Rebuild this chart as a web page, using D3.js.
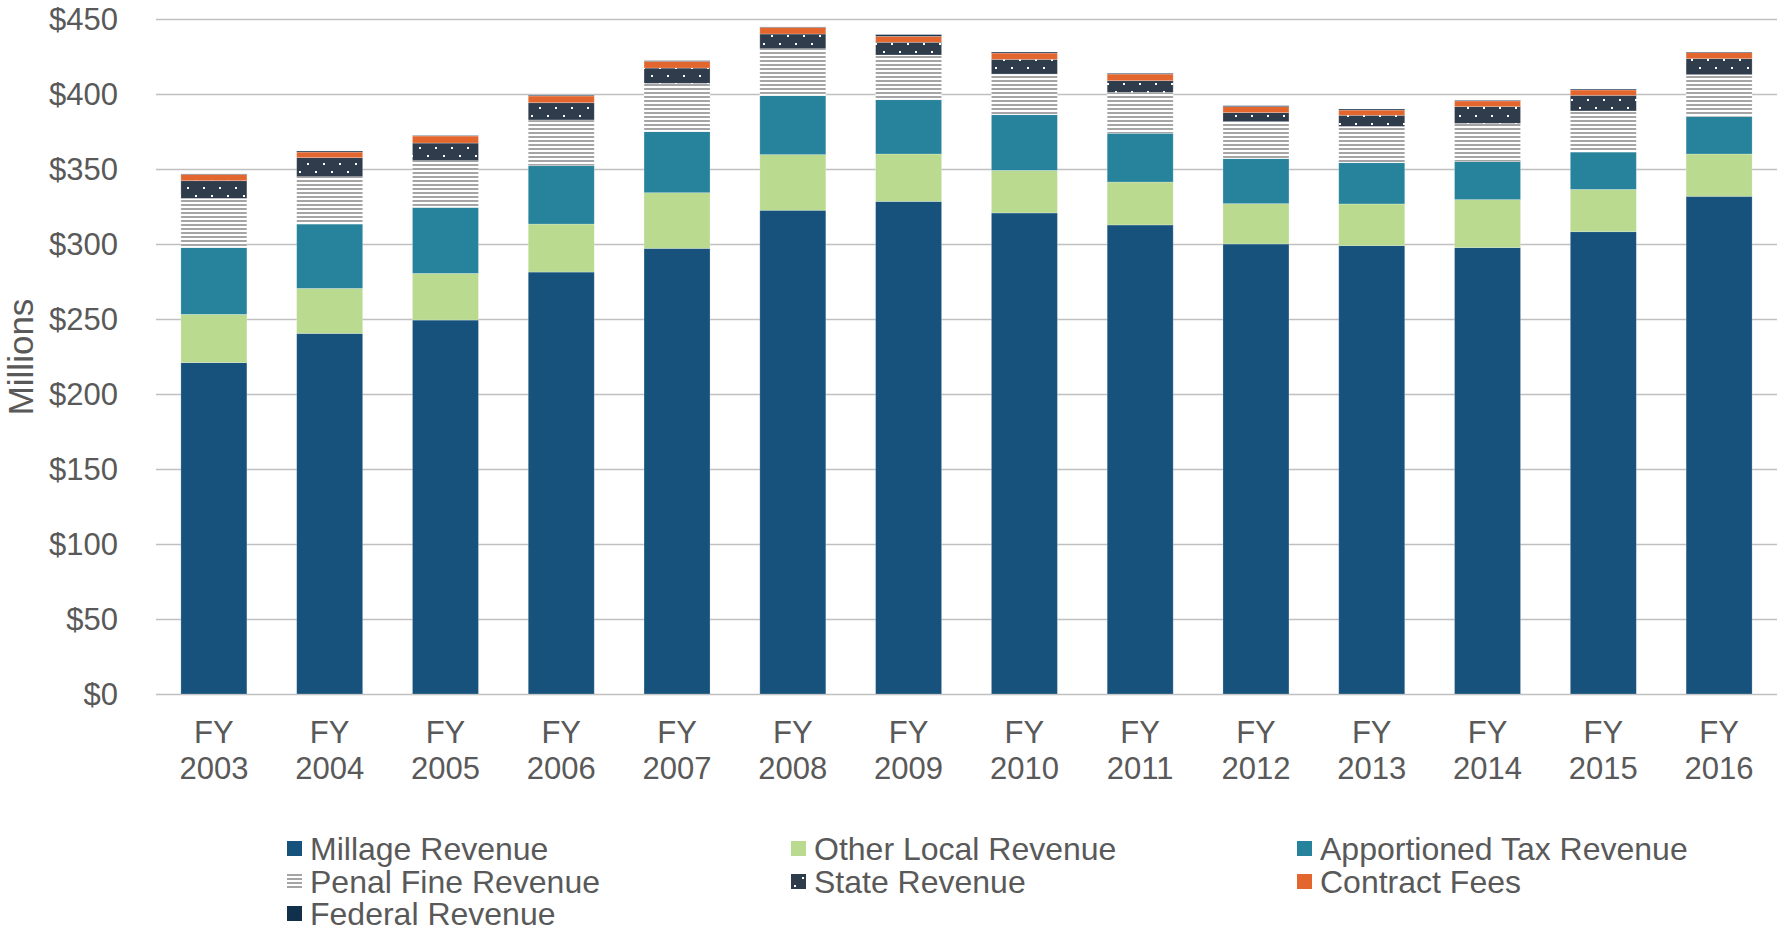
<!DOCTYPE html>
<html>
<head>
<meta charset="utf-8">
<script src="https://cdn.jsdelivr.net/npm/d3@7"></script>
<style>
    body { margin: 0; background: white; }
    text { font-family: "Liberation Sans", Arial, sans-serif; fill: #595959; }
</style>
</head>
<body>
<div id="chart"></div>
<script>
// values, in millions
var years = ['2003', '2004', '2005', '2006', '2007', '2008', '2009', '2010', '2011', '2012', '2013', '2014', '2015', '2016'];
var millage = [220.9, 240.4, 249.3, 281.3, 297.1, 322.5, 328.4, 320.7, 312.7, 300.0, 298.9, 297.6, 308.2, 331.8];
var otherLocal = [32.2, 30.0, 31.1, 32.0, 37.1, 37.1, 31.6, 28.4, 28.6, 26.9, 27.8, 32.0, 28.2, 28.2];
var apportioned = [44.5, 42.9, 44.0, 38.9, 40.7, 39.3, 36.2, 37.1, 32.5, 30.0, 27.5, 25.3, 24.9, 24.9];
var penalFine = [32.8, 31.6, 31.2, 30.5, 32.2, 31.3, 29.8, 27.1, 27.3, 24.7, 24.2, 25.5, 27.4, 28.0];
var stateRev = [11.8, 12.7, 11.7, 11.5, 10.2, 9.8, 8.5, 9.8, 7.8, 6.0, 7.4, 11.2, 10.4, 10.7];
var contractFees = [4.2, 3.7, 4.7, 4.5, 4.5, 4.4, 4.0, 4.2, 4.4, 4.0, 3.5, 3.8, 3.6, 4.0];
var federal = [0.3, 0.7, 0.3, 0.5, 0.4, 0.3, 1.1, 0.7, 0.5, 0.6, 0.7, 0.4, 0.6, 0.4];
var yTicks = [0, 50, 100, 150, 200, 250, 300, 350, 400, 450];

var series = [
    { key: 'millage', name: 'Millage Revenue', values: millage, fill: '#17527c' },
    { key: 'other', name: 'Other Local Revenue', values: otherLocal, fill: '#b9da8f' },
    { key: 'apportioned', name: 'Apportioned Tax Revenue', values: apportioned, fill: '#26839b' },
    { key: 'penal', name: 'Penal Fine Revenue', values: penalFine, fill: 'url(#penal)' },
    { key: 'state', name: 'State Revenue', values: stateRev, fill: 'url(#dots)' },
    { key: 'contract', name: 'Contract Fees', values: contractFees, fill: '#e3662f' },
    { key: 'federal', name: 'Federal Revenue', values: federal, fill: '#11304c' }
];

var width = 1777, height = 932;
var plot = { left: 156, right: 1777, top: 19, bottom: 694 };

var svg = d3.select('#chart')
    .append('svg')
    .attr('width', width)
    .attr('height', height);

// fill patterns for penal fines (stripes) and state revenue (dots)
var defs = svg.append('defs');
var stripes = defs.append('pattern')
    .attr('id', 'penal')
    .attr('patternUnits', 'userSpaceOnUse')
    .attr('width', 4).attr('height', 4);
stripes.append('rect').attr('width', 4).attr('height', 4).attr('fill', 'white');
stripes.append('rect').attr('width', 4).attr('height', 2).attr('fill', '#a5a5a5');

var dots = defs.append('pattern')
    .attr('id', 'dots')
    .attr('patternUnits', 'userSpaceOnUse')
    .attr('width', 16).attr('height', 16);
dots.append('rect').attr('width', 16).attr('height', 16).attr('fill', '#2f3c4c');
dots.append('rect').attr('x', 3).attr('y', 3).attr('width', 2).attr('height', 2).attr('fill', 'white');
dots.append('rect').attr('x', 11).attr('y', 11).attr('width', 2).attr('height', 2).attr('fill', 'white');

var x = d3.scaleBand()
    .domain(years)
    .range([plot.left, plot.right])
    .paddingInner(0.43)
    .paddingOuter(0.215);

var y = d3.scaleLinear()
    .domain([0, 450])
    .range([plot.bottom, plot.top]);

// gridlines
svg.append('g')
    .attr('transform', 'translate(' + plot.left + ',0)')
    .call(d3.axisLeft(y).tickValues(yTicks).tickSize(-(plot.right - plot.left)).tickFormat(''))
    .call(function(g) {
        g.select('.domain').remove();
        g.selectAll('line').attr('stroke', '#c0c0c0').attr('stroke-width', 1.5);
    });

// y labels
svg.append('g')
    .selectAll('text')
    .data(yTicks)
    .enter()
    .append('text')
    .attr('x', 118)
    .attr('y', function(d) { return y(d); })
    .attr('dy', '0.36em')
    .attr('text-anchor', 'end')
    .style('font-size', '31px')
    .text(function(d) { return '$' + d; });

svg.append('text')
    .attr('transform', 'translate(33,357) rotate(-90)')
    .attr('text-anchor', 'middle')
    .style('font-size', '35px')
    .text('Millions');

// stacked bars
var rows = years.map(function(yr, i) {
    var r = { year: yr };
    series.forEach(function(s) { r[s.key] = s.values[i]; });
    return r;
});
var stack = d3.stack().keys(series.map(function(s) { return s.key; }));
var layers = stack(rows);

svg.append('g')
    .selectAll('g')
    .data(layers)
    .enter()
    .append('g')
    .attr('fill', function(d, i) { return series[i].fill; })
    .selectAll('rect')
    .data(function(d) { return d; })
    .enter()
    .append('rect')
    .attr('x', function(d) { return x(d.data.year); })
    .attr('width', x.bandwidth())
    .attr('y', function(d) { return y(d[1]); })
    .attr('height', function(d) { return y(d[0]) - y(d[1]); })
    .attr('stroke', 'white')
    .attr('stroke-opacity', 0.3)
    .attr('stroke-width', 0.75);

// x labels, two lines
var xl = svg.append('g')
    .selectAll('text')
    .data(years)
    .enter()
    .append('text')
    .attr('text-anchor', 'middle')
    .style('font-size', '31px');
xl.append('tspan')
    .attr('x', function(d) { return x(d) + x.bandwidth() / 2; })
    .attr('y', 743)
    .text('FY');
xl.append('tspan')
    .attr('x', function(d) { return x(d) + x.bandwidth() / 2; })
    .attr('y', 779)
    .text(function(d) { return d; });

// legend, three columns
var legendCols = [287, 791, 1297];
var legendRows = [849, 882, 914];
var legend = svg.append('g')
    .selectAll('g')
    .data(series)
    .enter()
    .append('g')
    .attr('transform', function(d, i) {
        return 'translate(' + legendCols[i % 3] + ',' + legendRows[Math.floor(i / 3)] + ')';
    });
legend.append('rect')
    .attr('x', 0)
    .attr('y', -8)
    .attr('width', 15)
    .attr('height', 15)
    .attr('fill', function(d) { return d.fill; });
legend.append('text')
    .attr('x', 23)
    .attr('y', 0)
    .attr('dy', '0.35em')
    .style('font-size', '32px')
    .text(function(d) { return d.name; });
</script>
</body>
</html>
